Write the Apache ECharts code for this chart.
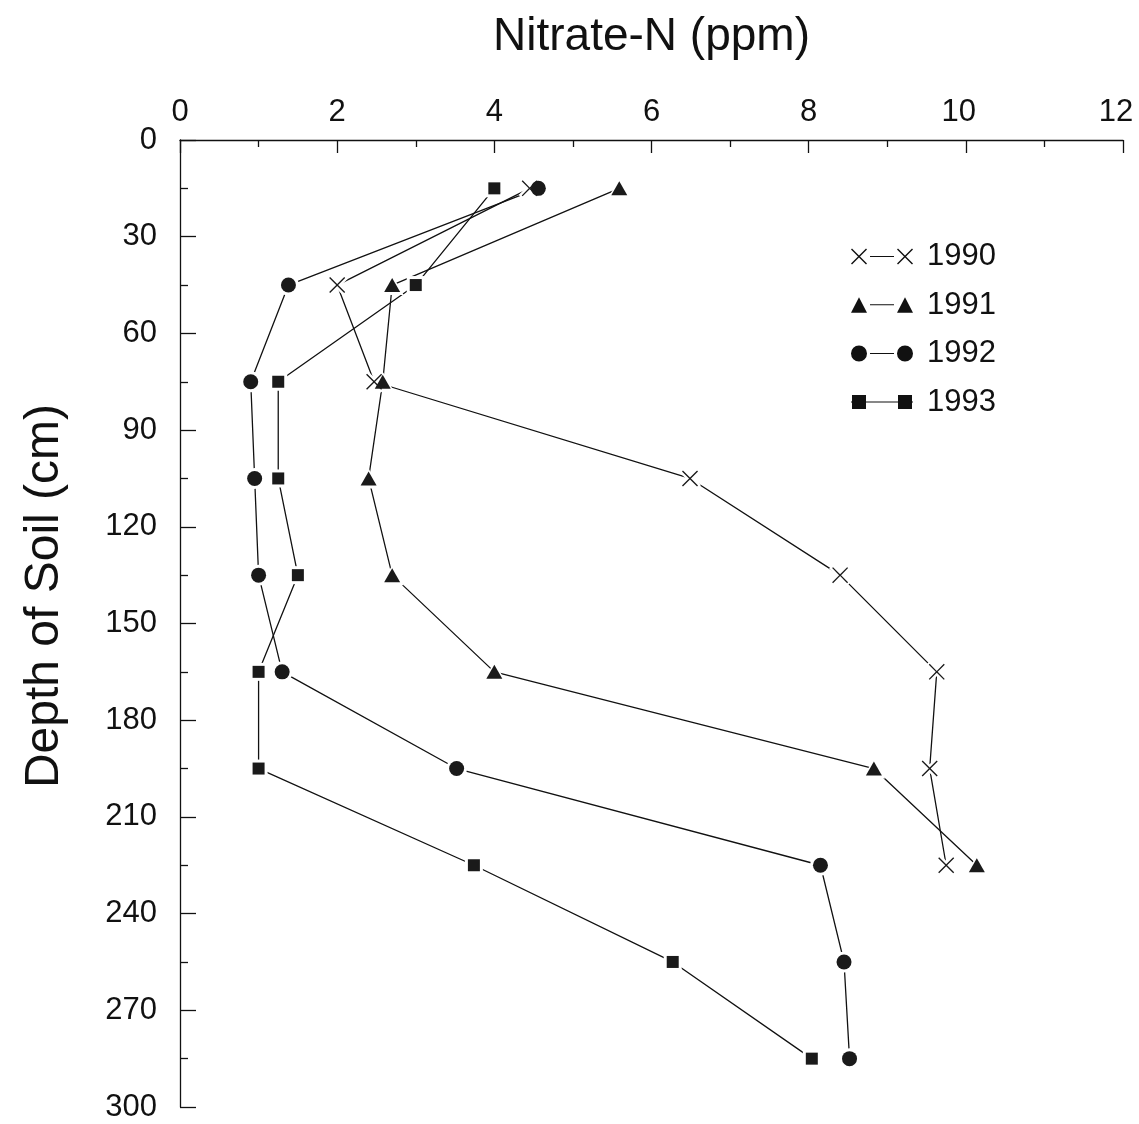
<!DOCTYPE html>
<html>
<head>
<meta charset="utf-8">
<script src="https://cdn.jsdelivr.net/npm/echarts@6/dist/echarts.min.js"></script>
<style>
html,body{margin:0;padding:0;background:#fff;}
#chart{width:1139px;height:1124px;}
</style>
</head>
<body>
<div id="chart"></div>
<script>
// ---- data ----
const depths = [15, 45, 75, 105, 135, 165, 195, 225, 255, 285];
const years = ['1990', '1991', '1992', '1993'];
const n1990 = [4.45, 2.00, 2.47, 6.49, 8.40, 9.63, 9.54, 9.75];
const n1991 = [5.59, 2.70, 2.58, 2.40, 2.70, 4.00, 8.83, 10.14];
const n1992 = [4.56, 1.38, 0.90, 0.95, 1.00, 1.30, 3.52, 8.15, 8.45, 8.52];
const n1993 = [4.00, 3.00, 1.25, 1.25, 1.50, 1.00, 1.00, 3.74, 6.27, 8.04];
const xTitle = 'Nitrate-N (ppm)';
const yTitle = 'Depth of Soil (cm)';

// ---- styling ----
const FONT = "'Liberation Sans', Arial, sans-serif";
const INK = '#111';

const X_PATH = 'path://M0,6L6,0L50,44L94,0L100,6L56,50L100,94L94,100L50,56L6,100L0,94L44,50Z';
const X_HALO = 'path://M0,20L20,0L50,30L80,0L100,20L70,50L100,80L80,100L50,70L20,100L0,80L30,50Z';

const LINE_BAR = 'M190,74L430,74L430,86L190,86Z';
const legendIcons = [
  'path://M0,10L10,0L80,70L150,0L160,10L90,80L160,150L150,160L80,90L10,160L0,150L70,80Z' +
  'M460,10L470,0L540,70L610,0L620,10L550,80L620,150L610,160L540,90L470,160L460,150L530,80Z' + LINE_BAR,
  'path://M0,160L80,5L160,160ZM460,160L540,5L620,160Z' + LINE_BAR,
  'path://M0,80A80,80 0 1 1 160,80A80,80 0 1 1 0,80ZM460,80A80,80 0 1 1 620,80A80,80 0 1 1 460,80Z' + LINE_BAR,
  'path://M10,10L150,10L150,150L10,150ZM470,10L610,10L610,150L470,150ZM0,74L620,74L620,86L0,86Z'
];

const values = [n1990, n1991, n1992, n1993];
const markSymbols = [X_PATH, 'triangle', 'circle', 'rect'];
const markSizes = [16, [16, 14], 15, 12];
const haloSymbols = [X_HALO, 'triangle', 'circle', 'rect'];
const haloSizes = [22, [23, 20], 21, 18];

function pairs(arr) { return arr.map((v, i) => [v, depths[i]]); }

const series = [];
years.forEach((y, k) => {
  series.push({
    name: y, type: 'line', data: pairs(values[k]),
    symbol: 'none', z: 2, silent: true,
    color: INK,
    lineStyle: { color: INK, width: 1.3 },
    itemStyle: { color: INK }
  });
});
years.forEach((y, k) => {
  series.push({
    name: 'halo' + y, type: 'scatter', data: pairs(values[k]),
    symbol: haloSymbols[k], symbolSize: haloSizes[k], z: 3, silent: true,
    itemStyle: { color: '#fff', opacity: 1 }
  });
});
years.forEach((y, k) => {
  series.push({
    name: 'mark' + y, type: 'scatter', data: pairs(values[k]),
    symbol: markSymbols[k], symbolSize: markSizes[k], z: 4, silent: true,
    itemStyle: { color: '#1a1a1a', opacity: 1 }
  });
});

const chart = echarts.init(document.getElementById('chart'), null, { renderer: 'canvas' });
chart.setOption({
  animation: false,
  backgroundColor: '#fff',
  grid: { left: 180, right: 16, top: 140, bottom: 17 },
  xAxis: {
    type: 'value', position: 'top', min: 0, max: 12, interval: 2,
    name: xTitle, nameLocation: 'middle', nameGap: 80,
    nameTextStyle: { fontFamily: FONT, fontSize: 46, color: INK },
    axisLine: { show: true, lineStyle: { color: INK, width: 1.3 } },
    axisTick: { show: true, inside: true, length: 13, lineStyle: { color: INK, width: 1.3 } },
    minorTick: { show: true, splitNumber: 2, length: 7, lineStyle: { color: INK, width: 1.3 } },
    splitLine: { show: false },
    axisLabel: {
      fontFamily: FONT, fontSize: 31, color: INK, margin: 12,
      formatter: v => (v >= 10 ? '{s|' + v + '}' : String(v)),
      rich: { s: { fontFamily: FONT, fontSize: 31, color: INK, padding: [0, 14, 0, 0] } }
    }
  },
  yAxis: {
    type: 'value', inverse: true, min: 0, max: 300, interval: 30,
    axisLine: { show: true, lineStyle: { color: INK, width: 1.3 } },
    axisTick: { show: true, inside: true, length: 16, lineStyle: { color: INK, width: 1.3 } },
    minorTick: { show: true, splitNumber: 2, length: 8, lineStyle: { color: INK, width: 1.3 } },
    splitLine: { show: false },
    axisLabel: { fontFamily: FONT, fontSize: 31, color: INK, margin: 23 }
  },
  legend: {
    orient: 'vertical', left: 851, top: 241, padding: 0,
    itemWidth: 62, itemHeight: 16, itemGap: 17.5,
    selectedMode: false,
    itemStyle: { borderWidth: 0 },
    textStyle: { fontFamily: FONT, fontSize: 31, color: INK, padding: [0, 0, 0, 9] },
    data: years.map((y, k) => ({ name: y, icon: legendIcons[k] }))
  },
  graphic: [{
    type: 'text', x: 45, y: 596, rotation: Math.PI / 2,
    style: { text: yTitle, fontFamily: FONT, fontSize: 48, fill: INK, align: 'center', verticalAlign: 'middle' }
  }],
  series: series
});
</script>
</body>
</html>
